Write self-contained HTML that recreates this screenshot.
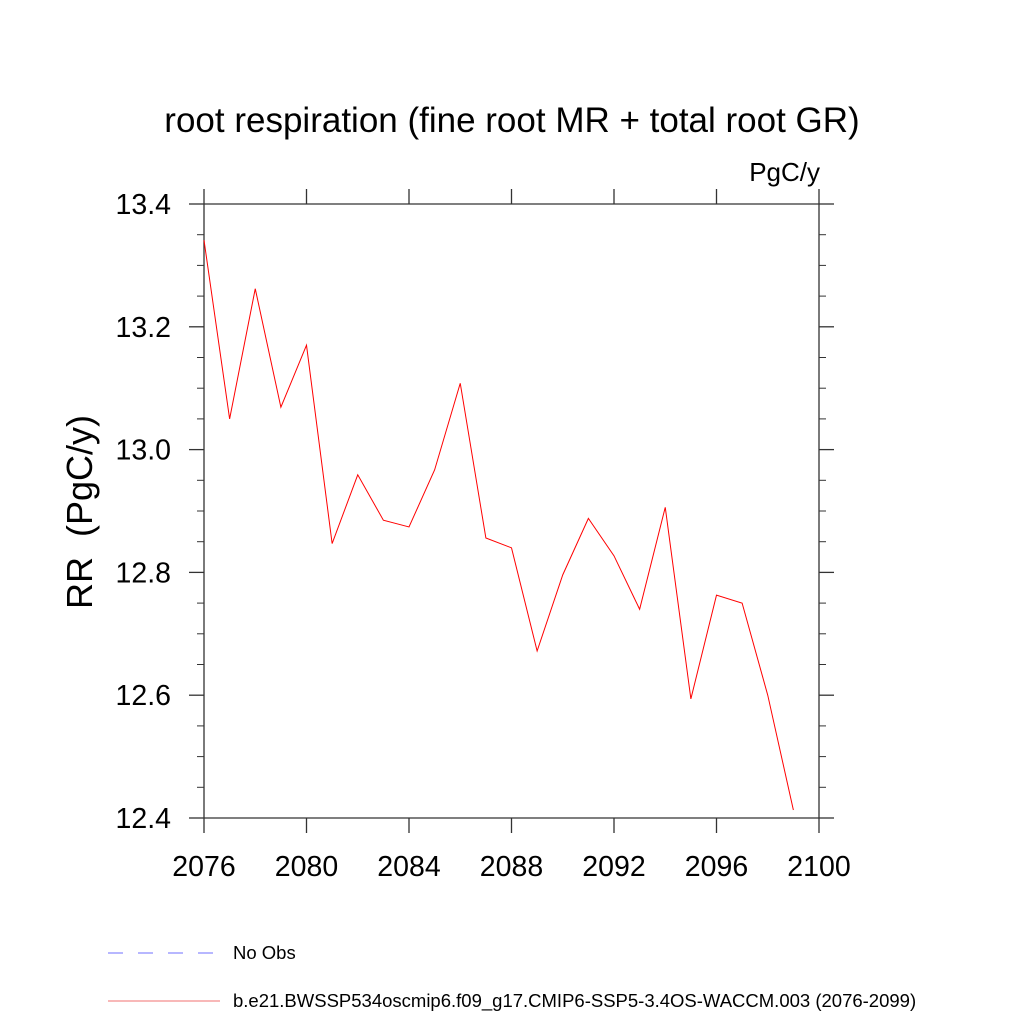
<!DOCTYPE html>
<html><head><meta charset="utf-8"><style>
html,body{margin:0;padding:0;background:#fff;}
svg{display:block;font-family:"Liberation Sans",sans-serif;}
</style></head><body>
<svg id="chart" width="1024" height="1024" viewBox="0 0 1024 1024">
<text x="512" y="132" font-size="35" text-anchor="middle">root respiration (fine root MR + total root GR)</text>
<text x="820" y="181" font-size="26" text-anchor="end">PgC/y</text>
<text transform="translate(92,512) rotate(-90)" font-size="36" text-anchor="middle" style="white-space:pre" xml:space="preserve">RR  (PgC/y)</text>
<g id="axes"></g>
<g id="series"></g>
<g>
<line x1="108" y1="953" x2="218" y2="953" stroke="#6f6fff" stroke-width="1" stroke-dasharray="15,15"/>
<text x="233" y="959" font-size="18.5">No Obs</text>
<line x1="108" y1="1001" x2="220" y2="1001" stroke="#f07070" stroke-width="1"/>
<text x="233" y="1007" font-size="18.5">b.e21.BWSSP534oscmip6.f09_g17.CMIP6-SSP5-3.4OS-WACCM.003 (2076-2099)</text>
</g>
</svg>
<script>
const years = [2076,2077,2078,2079,2080,2081,2082,2083,2084,2085,2086,2087,2088,2089,2090,2091,2092,2093,2094,2095,2096,2097,2098,2099];
const values = [13.341,13.05,13.262,13.069,13.17,12.847,12.959,12.885,12.874,12.967,13.108,12.856,12.84,12.672,12.796,12.888,12.827,12.74,12.906,12.594,12.763,12.75,12.6,12.413];
const xTicks = [2076,2080,2084,2088,2092,2096,2100];
const yTicks = [12.4,12.6,12.8,13.0,13.2,13.4];
const yTickLabels = ["12.4","12.6","12.8","13.0","13.2","13.4"];
const L=204,R=819,T=204,B=818, X0=2076,X1=2100,Y0=12.4,Y1=13.4;
const xs=v=>L+(v-X0)/(X1-X0)*(R-L);
const ys=v=>B-(v-Y0)/(Y1-Y0)*(B-T);
const NS="http://www.w3.org/2000/svg";
const ax=document.getElementById('axes');
function ln(x1,y1,x2,y2,name,w){const e=document.createElementNS(NS,'line');
e.setAttribute('x1',x1);e.setAttribute('y1',y1);e.setAttribute('x2',x2);e.setAttribute('y2',y2);
e.setAttribute('stroke','#333');e.setAttribute('stroke-width',w||1.3);


ax.appendChild(e);return e;}
function tx(x,y,s,anchor,name){const e=document.createElementNS(NS,'text');
e.setAttribute('x',x);e.setAttribute('y',y);e.setAttribute('font-size','28.5');e.setAttribute('text-anchor',anchor);e.textContent=s;


ax.appendChild(e);}
ln(L,T,R,T,'plot-frame-top');ln(L,B,R,B,'plot-frame-bottom');ln(L,T,L,B,'plot-frame-left');ln(R,T,R,B,'plot-frame-right');
xTicks.forEach(v=>{const x=xs(v);ln(x,B,x,B+15,'x-tick');ln(x,T,x,T-15,'x-tick-top');tx(x,B+58,String(v),'middle','x-tick-label');});
yTicks.forEach((v,i)=>{const y=ys(v);ln(L-15,y,L,y,'y-tick');ln(R,y,R+15,y,'y-tick-right');tx(L-33,y+10,yTickLabels[i],'end','y-tick-label');});
for(let k=0;k<=20;k++){const v=Y0+k*0.05;if(k%4===0)continue;const y=ys(v);ln(L-7,y,L,y,'y-minor-tick',1);ln(R,y,R+7,y,'y-minor-tick-right',1);}
const sg=document.getElementById('series');
const p=document.createElementNS(NS,'polyline');
p.setAttribute('points',years.map((y,i)=>xs(y)+','+ys(values[i])).join(' '));
p.setAttribute('fill','none');p.setAttribute('stroke','#ff0000');p.setAttribute('stroke-width','1');


sg.appendChild(p);
</script>
</body></html>
